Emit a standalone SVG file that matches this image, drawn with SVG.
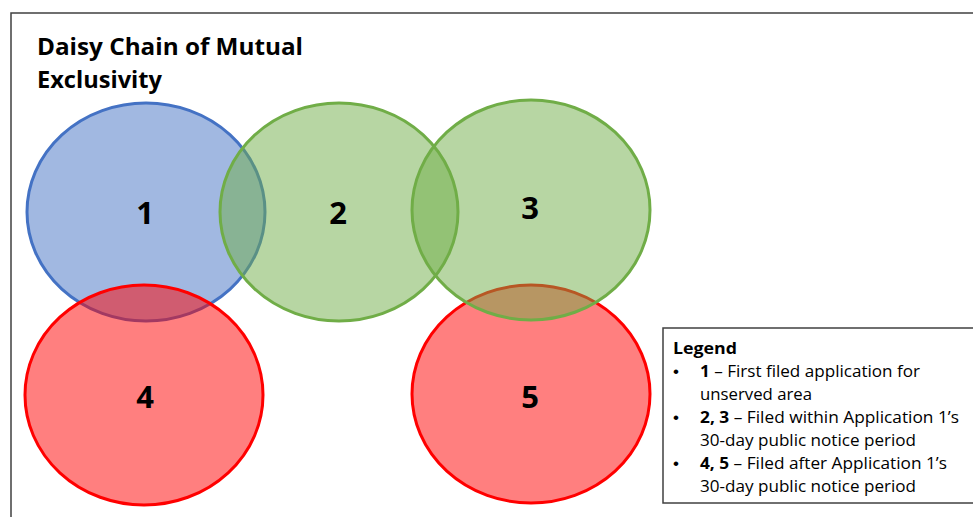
<svg xmlns="http://www.w3.org/2000/svg" width="973" height="517" viewBox="0 0 973 517">
<style>
.frame{fill:#fff;stroke:#404040;stroke-width:1.5}
.blue{fill:#4472C4;fill-opacity:0.5;stroke:#4472C4;stroke-width:3}
.green{fill:#70AD47;fill-opacity:0.5;stroke:#70AD47;stroke-width:3}
.red{fill:#FF0000;fill-opacity:0.5;stroke:#FF0000;stroke-width:3}
.num{font-family:"Open Sans","Liberation Sans",sans-serif;font-weight:bold;font-size:31px;fill:#000;text-anchor:middle}
.title{font-family:"Open Sans","Liberation Sans",sans-serif;font-weight:bold;font-size:24px;fill:#000}
.lg{font-family:"Open Sans","Liberation Sans",sans-serif;font-size:16.5px;fill:#000}
.bul{font-family:"Liberation Sans",Arial,sans-serif;font-size:17px;fill:#000}
.lgb{font-weight:bold}
</style>
<rect class="frame" x="11" y="13" width="975" height="520"/>
<g id="title">
<text class="title" x="37" y="55" textLength="266" lengthAdjust="spacingAndGlyphs">Daisy Chain of Mutual</text>
<text class="title" x="37" y="88" textLength="125" lengthAdjust="spacingAndGlyphs">Exclusivity</text>
</g>
<g id="node1"><ellipse class="blue" cx="146" cy="212" rx="119" ry="109"/></g>
<g id="node4"><ellipse class="red" cx="144" cy="395" rx="119" ry="110"/></g>
<g id="node5"><ellipse class="red" cx="531" cy="394" rx="119" ry="109"/></g>
<g id="node2"><ellipse class="green" cx="339" cy="212" rx="119" ry="109"/></g>
<g id="node3"><ellipse class="green" cx="531" cy="210" rx="119" ry="110"/></g>
<g id="labels">
<text class="num" x="145" y="224">1</text>
<text class="num" x="338" y="224">2</text>
<text class="num" x="530" y="219">3</text>
<text class="num" x="145" y="408">4</text>
<text class="num" x="530" y="408">5</text>
</g>
<g id="connectors"></g>
<g id="legend">
<rect class="frame" x="663" y="328" width="320" height="175"/>
<text class="lg lgb" x="673" y="354" font-size="18" textLength="64" lengthAdjust="spacingAndGlyphs">Legend</text>
<text class="bul" x="673" y="377">•</text>
<text class="lg" x="700" y="377" textLength="220" lengthAdjust="spacingAndGlyphs"><tspan class="lgb">1</tspan> – First filed application for</text>
<text class="lg" x="700" y="400" textLength="112" lengthAdjust="spacingAndGlyphs">unserved area</text>
<text class="bul" x="673" y="423">•</text>
<text class="lg" x="700" y="423" textLength="259" lengthAdjust="spacingAndGlyphs"><tspan class="lgb">2, 3</tspan> – Filed within Application 1’s</text>
<text class="lg" x="700" y="446" textLength="216" lengthAdjust="spacingAndGlyphs">30-day public notice period</text>
<text class="bul" x="673" y="469">•</text>
<text class="lg" x="700" y="469" textLength="247" lengthAdjust="spacingAndGlyphs"><tspan class="lgb">4, 5</tspan> – Filed after Application 1’s</text>
<text class="lg" x="700" y="492" textLength="216" lengthAdjust="spacingAndGlyphs">30-day public notice period</text>
</g>
</svg>
